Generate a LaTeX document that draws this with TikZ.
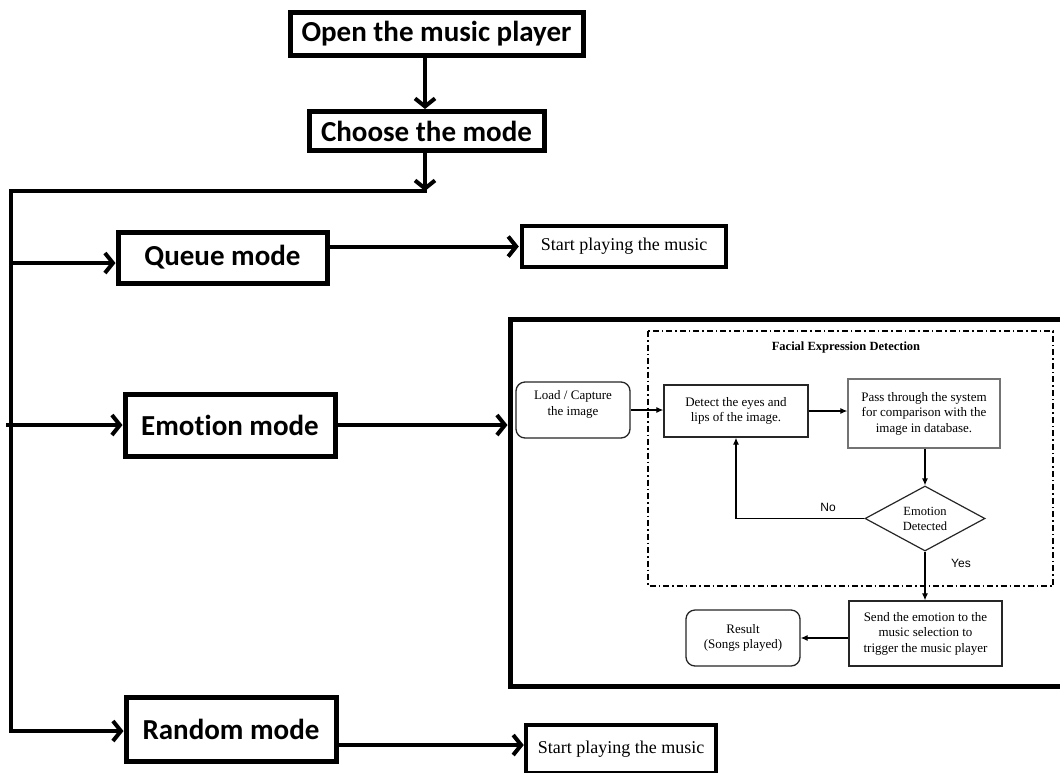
\documentclass[tikz,border=0pt]{standalone}
\usepackage{fontspec}
\setmainfont{Liberation Serif}
\newfontfamily\calfont[Ligatures=NoCommon]{Carlito}
\newfontfamily\arialfont{Liberation Sans}
\usetikzlibrary{arrows.meta,shapes.geometric}
\begin{document}
\begin{tikzpicture}[x=1pt,y=-1pt,
  mainbox/.style={draw,line width=5pt,inner sep=0pt,font=\calfont\bfseries\fontsize{29}{31}\selectfont},
  startbox/.style={draw,line width=4.5pt,inner sep=0pt,font=\fontsize{18}{20}\selectfont},
  mainline/.style={line width=4pt},
  mainarrow/.style={line width=4pt,-{Straight Barb[length=8pt,width=20pt,line width=4pt]}},
  inbox/.style={draw=black!85,line width=1.3pt,inner sep=0pt,align=center,font=\fontsize{13}{15.5}\selectfont},
  inround/.style={inbox,rounded corners=9pt},
  inarrow/.style={line width=1.2pt,-{Latex[length=7pt,width=6pt]}},
  lbl/.style={font=\arialfont\fontsize{12}{14}\selectfont}
]
\useasboundingbox (0,0) rectangle (1060,772);
\fill[white] (0,0) rectangle (1060,772);

% main flow
\node[mainbox,minimum width=293pt,minimum height=43pt] (open) at (436.5,34) {Open the music player};
\node[mainbox,minimum width=235pt,minimum height=39pt] (choose) at (426.5,131) {Choose the mode};
\coordinate (j) at (425,191);
\coordinate (c) at (11,191);
\coordinate (bq) at (11,263);
\coordinate (be) at (6,425);
\coordinate (br) at (11,731);
\draw[mainarrow] (open.south -| j) -- (choose.north -| j);
\draw[mainarrow] (choose.south -| j) -- (j);
\draw[mainline,line cap=rect] (j) -- (c) -- (br);

\node[mainbox,minimum width=209pt,minimum height=51pt] (queue) at (222.5,257.5) {Queue mode};
\node[startbox,minimum width=204pt,minimum height=41pt] (startq) at (624,246.5) {Start playing the music};
\draw[mainarrow] (bq) -- (bq -| queue.west);
\draw[mainarrow] (startq.west -| queue.east) -- ([xshift=-1pt]startq.west);

\node[mainbox,minimum width=210pt,minimum height=62pt] (emotion) at (230,425) {Emotion mode};
\node[draw,line width=5pt,minimum width=555pt,minimum height=367pt,inner sep=0pt] (fed) at (787.5,502.5) {};
\draw[mainarrow] (be) -- (be -| emotion.west);
\draw[mainarrow] (emotion.east) -- (emotion.east -| fed.west);

\node[mainbox,minimum width=210pt,minimum height=64pt] (random) at (231,729) {Random mode};
\node[startbox,minimum width=190pt,minimum height=48pt] (startr) at (621,749) {Start playing the music};
\coordinate (ra) at (336,745);
\draw[mainarrow] (br) -- (br -| random.west);
\draw[mainarrow] (ra) -- (ra -| startr.west);

% inner facial expression detection flowchart
\draw[line width=1.5pt,dash pattern=on 6pt off 3pt on 1.5pt off 3pt] (648,331) rectangle (1053,586);
\node[font=\bfseries\fontsize{12.5}{14}\selectfont] (title) at (846,347) {Facial Expression Detection};
\node[inround,minimum width=114pt,minimum height=56pt,text depth=14pt] (load) at (573,410) {Load / Capture\\the image};
\node[inbox,minimum width=144pt,minimum height=52pt] (detect) at (736,411) {Detect the eyes and\\lips of the image.};
\node[inbox,draw=black!55,minimum width=152pt,minimum height=69pt] (pass) at (924,413.5) {Pass through the system\\for comparison with the\\image in database.};
\node[draw=black!85,line width=1.2pt,diamond,aspect=1.85,minimum width=120pt,minimum height=65pt,inner sep=0pt,align=center,font=\fontsize{12.5}{15}\selectfont] (emo) at (925,518.5) {Emotion\\Detected};
\node[inbox,minimum width=153pt,minimum height=65pt] (send) at (925.5,633.5) {Send the emotion to the\\music selection to\\trigger the music player};
\node[inround,minimum width=114pt,minimum height=56pt] (result) at (743,638) {Result\\(Songs played)};

\draw[inarrow] (load.east) -- (load.east -| detect.west);
\draw[inarrow] (detect.east) -- (detect.east -| pass.west);
\draw[inarrow] (pass.south -| emo.north) -- (emo.north);
\draw[inarrow] (emo.west) -| (detect.south);
\draw[inarrow] (emo.south) -- (emo.south |- send.north);
\draw[inarrow] (result.east -| send.west) -- (result.east);
\node[lbl] (no) at (828,507) {No};
\node[lbl] (yes) at (961,563) {Yes};
\end{tikzpicture}
\end{document}
